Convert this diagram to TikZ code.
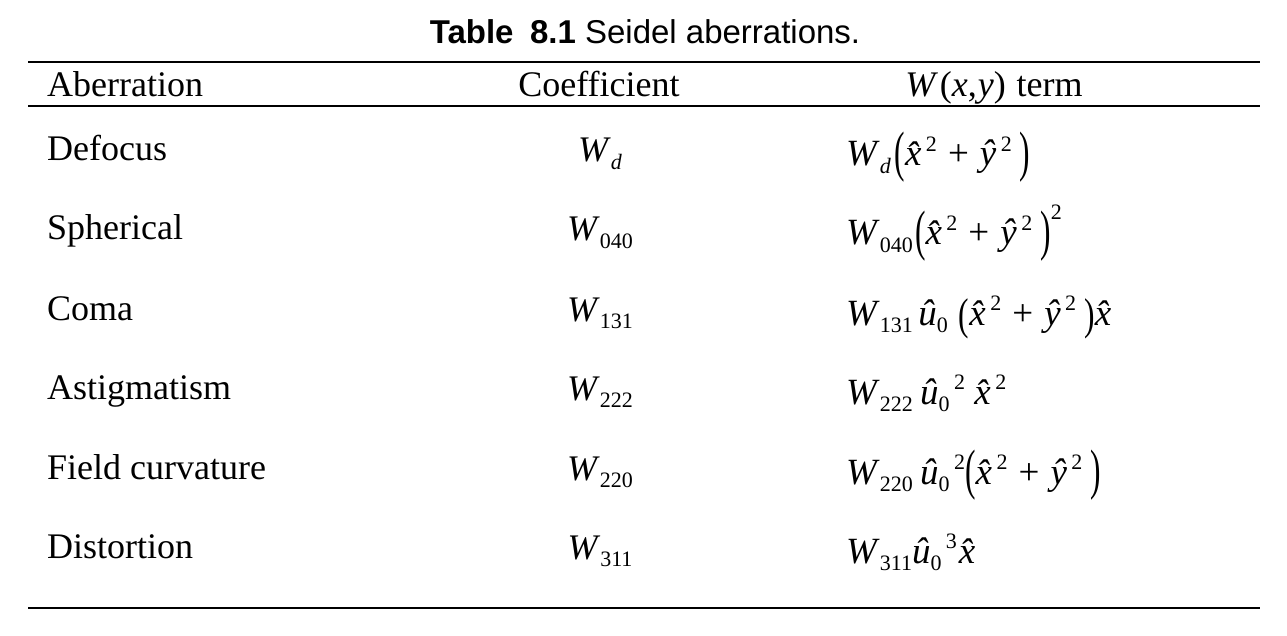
\documentclass[tikz,border=0pt]{standalone}
\usepackage{fontspec}
\usepackage{graphicx}
\setmainfont{Liberation Serif}
\newfontfamily\titlefont{Liberation Sans}
\newcommand\fsmain{\fontsize{36}{40}\selectfont}
\newcommand\fsterm{\fontsize{37}{40}\selectfont}
\newcommand\vv[1]{\textit{#1}}
\newcommand\mysub[1]{\raisebox{-0.2em}{\fontsize{22}{22}\selectfont #1}}
\newcommand\mysup[1]{\hspace{0.12em}\raisebox{0.4em}{\fontsize{22}{22}\selectfont #1}}
\newcommand\mysupp[1]{\raisebox{0.68em}{\fontsize{22}{22}\selectfont #1}}
\newcommand\Lp[1][1.5]{\raisebox{-0.12em}{\scalebox{0.85}[#1]{(}}}
\newcommand\Rp[1][1.5]{\raisebox{-0.12em}{\scalebox{0.85}[#1]{)}}}
\newcommand\hx{{\itshape\^{x}}}
\newcommand\hy{{\itshape\^{y}}}
\newcommand\hu{{\itshape\^{u}}}
\newcommand\pl{\hspace{0.3em}+\hspace{0.3em}}
\tikzset{
  lefttxt/.style={anchor=base west, inner sep=0pt, font=\fsmain},
  termtxt/.style={anchor=base west, inner sep=0pt, font=\fsterm},
  midtxt/.style={anchor=base, inner sep=0pt, font=\fsmain},
  rulestyle/.style={line width=2.2pt, black}
}
\begin{document}
\begin{tikzpicture}[x=1pt,y=-1pt]
\useasboundingbox (0,0) rectangle (1287,636);
\fill[white] (0,0) rectangle (1287,636);
% title
\node[anchor=base, inner sep=0pt, font=\titlefont\fontsize{33}{36}\selectfont] (title) at (645,44)
  {\textbf{Table\hspace{0.5em}8.1} Seidel aberrations.};
% rules
\coordinate (r1a) at (28,62);  \coordinate (r1b) at (1260,62);
\coordinate (r2a) at (28,106); \coordinate (r2b) at (1260,106);
\coordinate (r3a) at (28,608); \coordinate (r3b) at (1260,608);
\draw[rulestyle] (r1a) -- (r1b);
\draw[rulestyle] (r2a) -- (r2b);
\draw[rulestyle] (r3a) -- (r3b);
% header
\node[lefttxt] (h1) at (47,97) {Aberration};
\node[midtxt] (h2) at (599,97) {Coefficient};
\node[midtxt] (h3) at (994,97) {\vv{W}\hspace{0.05em}(\vv{x},\hspace{0.03em}\vv{y})\hspace{0.05em} term};
% column 1
\node[lefttxt] (a1) at (47,161) {Defocus};
\node[lefttxt] (a2) at (47,240) {Spherical};
\node[lefttxt] (a3) at (47,320) {Coma};
\node[lefttxt] (a4) at (47,399) {Astigmatism};
\node[lefttxt] (a5) at (47,479) {Field curvature};
\node[lefttxt] (a6) at (47,558) {Distortion};
% column 2
\node[midtxt] (c1) at (600,162) {\vv{W}\mysub{\vv{d}}};
\node[midtxt] (c2) at (600,241) {\vv{W}\mysub{040}};
\node[midtxt] (c3) at (600,321) {\vv{W}\mysub{131}};
\node[midtxt] (c4) at (600,400) {\vv{W}\mysub{222}};
\node[midtxt] (c5) at (600,480) {\vv{W}\mysub{220}};
\node[midtxt] (c6) at (600,559) {\vv{W}\mysub{311}};
% column 3
\node[termtxt] (w1) at (846,166) {\vv{W}\mysub{\vv{d}}\hspace{0.1em}\Lp\hx\mysup{2}\pl\hy\mysup{2}\hspace{0.22em}\Rp};
\node[termtxt] (w2) at (846,245) {\vv{W}\mysub{040}\hspace{0.06em}\Lp\hx\mysup{2}\pl\hy\mysup{2}\hspace{0.22em}\Rp\mysupp{2}};
\node[termtxt] (w3) at (846,325) {\vv{W}\mysub{131}\hspace{0.15em}\hu\mysub{0}\hspace{0.3em}\Lp[1.2]\hx\mysup{2}\pl\hy\mysup{2}\hspace{0.22em}\Rp[1.2]\hx};
\node[termtxt] (w4) at (846,404) {\vv{W}\mysub{222}\hspace{0.2em}\hu\mysub{0}\mysup{2}\hspace{0.25em}\hx\mysup{2}};
\node[termtxt] (w5) at (846,484) {\vv{W}\mysub{220}\hspace{0.2em}\hu\mysub{0}\mysup{2}\Lp\hx\mysup{2}\pl\hy\mysup{2}\hspace{0.22em}\Rp};
\node[termtxt] (w6) at (846,563) {\vv{W}\mysub{311}\hu\mysub{0}\mysup{3}\hspace{0.05em}\hx};
\end{tikzpicture}
\end{document}
